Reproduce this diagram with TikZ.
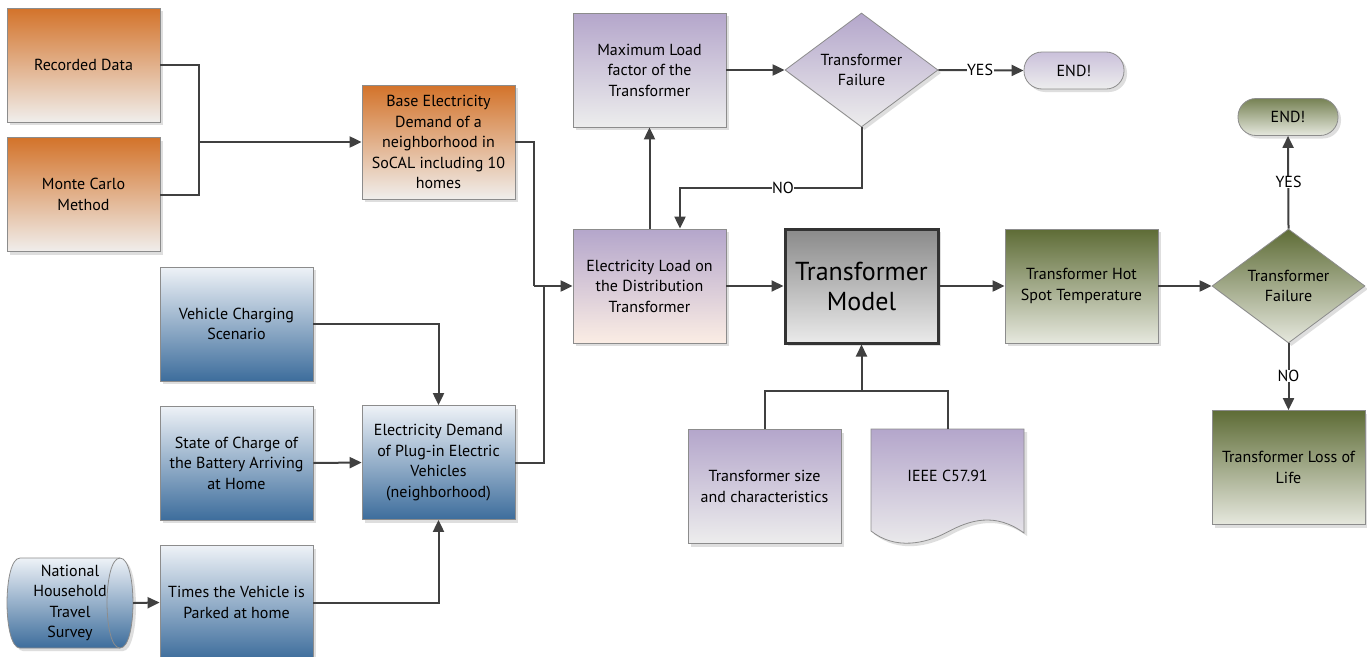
\documentclass[tikz,border=0pt]{standalone}
\usepackage{fontspec}
\setmainfont{PT Sans}
\usetikzlibrary{arrows.meta,shapes.geometric,shadows,calc}
\definecolor{bgray}{HTML}{8C8C8C}
\definecolor{lgray}{HTML}{404040}
\definecolor{orTop}{HTML}{D3732A}
\definecolor{orBot}{HTML}{F0EEEC}
\definecolor{blTop}{HTML}{EEF2F7}
\definecolor{blBot}{HTML}{3D6D9C}
\definecolor{puTop}{HTML}{B4A6CB}
\definecolor{puBot}{HTML}{EDEDED}
\definecolor{peBot}{HTML}{FBEDE4}
\definecolor{grTop}{HTML}{5E6C36}
\definecolor{grBot}{HTML}{E6E8DE}
\definecolor{gyTop}{HTML}{8A8A8A}
\definecolor{gyBot}{HTML}{EAEAEA}
\begin{document}
\begin{tikzpicture}[x=1pt,y=-1pt,
  every node/.style={font=\fontsize{16}{20.5}\selectfont, align=center, text=black},
  shd/.style={drop shadow={shadow xshift=3pt, shadow yshift=-3pt, fill=black!25, opacity=0.5}},
  box/.style={rectangle, draw=bgray, line width=0.8pt, minimum width=153pt, minimum height=114pt, inner sep=2pt, shd},
  orange/.style={box, top color=orTop, bottom color=orBot},
  blue/.style={box, top color=blTop, bottom color=blBot},
  purple/.style={box, top color=puTop, bottom color=puBot},
  green/.style={box, top color=grTop, bottom color=grBot},
  dia/.style={diamond, draw=bgray, line width=0.8pt, minimum width=153pt, minimum height=114pt, aspect=1.34, inner sep=0pt, shd},
  term/.style={rectangle, rounded corners=18pt, draw=bgray, line width=0.8pt, minimum width=100pt, minimum height=37pt, shd},
  ln/.style={draw=lgray, line width=2pt},
  arr/.style={ln, -{Triangle[length=12pt,width=11pt]}},
  lbl/.style={fill=white, inner sep=0.5pt}
]
\useasboundingbox (0,0) rectangle (1367,656);
\fill[white] (0,0) rectangle (1367,656);

% left inputs
\node[orange] (rec) at (83.5,65) {Recorded Data};
\node[orange] (mc) at (83.5,194.5) {Monte Carlo\\Method};
\node[orange] (base) at (438.5,142) {Base Electricity\\Demand of a\\neighborhood in\\SoCAL including 10\\homes};

\node[blue] (vcs) at (236.5,324) {Vehicle Charging\\Scenario};
\node[blue] (soc) at (236.5,463) {State of Charge of\\the Battery Arriving\\at Home};
\node[blue] (times) at (236.5,602.5) {Times the Vehicle is\\Parked at home};
\node[blue] (ev) at (438.5,462.5) {Electricity Demand\\of Plug-in Electric\\Vehicles\\(neighborhood)};

% cylinder (stored data)
\fill[black!25, opacity=0.5] (23,561) -- (123,561) .. controls (140.3,561) and (140.3,651) .. (123,651) -- (23,651) .. controls (5.7,651) and (5.7,561) .. (23,561) -- cycle;
\shade[top color=blTop, bottom color=blBot, draw=bgray, line width=0.8pt] (20,558) -- (120,558) .. controls (137.3,558) and (137.3,648) .. (120,648) -- (20,648) .. controls (2.7,648) and (2.7,558) .. (20,558) -- cycle;
\draw[bgray, line width=0.8pt] (120,558) .. controls (102.7,558) and (102.7,648) .. (120,648);
\node[minimum width=126pt, minimum height=90pt, inner sep=0pt] (nhts) at (70,603) {National\\Household\\Travel\\Survey};

% middle
\node[purple] (maxl) at (649.5,70) {Maximum Load\\factor of the\\Transformer};
\node[box, top color=puTop, bottom color=peBot] (load) at (649.5,286) {Electricity Load on\\the Distribution\\Transformer};
\node[dia, top color=puTop, bottom color=puBot] (d1) at (861.5,70) {Transformer\\Failure};
\node[term, top color=puTop!70, bottom color=puBot] (end1) at (1074,70.5) {END!};

\node[rectangle, draw=black!80, line width=3pt, minimum width=153pt, minimum height=114pt, top color=gyTop, bottom color=gyBot, shd, font=\fontsize{26}{30}\selectfont] (tm) at (861.5,286) {Transformer\\Model};

\node[purple] (tsz) at (764.5,486.5) {Transformer size\\and characteristics};
\coordinate (ieee) at (947.5,429);
\fill[black!25, opacity=0.5] (874,432) -- (1027,432) -- (1027,536) .. controls (998,515) and (973,523) .. (950.5,535) .. controls (928,547) and (898,553) .. (874,534) -- cycle;
\shade[top color=puTop, bottom color=puBot, draw=bgray, line width=0.8pt] (871,429) -- (1024,429) -- (1024,533) .. controls (995,512) and (970,520) .. (947.5,532) .. controls (925,544) and (895,550) .. (871,531) -- cycle;
\node (ieeetxt) at (947.5,476) {IEEE C57.91};

% right
\node[green] (hs) at (1081.5,286) {Transformer Hot\\Spot Temperature};
\node[dia, top color=grTop, bottom color=grBot] (d2) at (1288.5,286) {Transformer\\Failure};
\node[term, top color=grTop!85, bottom color=grBot] (end2) at (1288,117) {END!};
\node[green] (lol) at (1288.5,467.5) {Transformer Loss of\\Life};

% connectors
\coordinate (j1) at (199,142);
\draw[ln] (rec.east) -| (j1);
\draw[ln] (mc.east) -| (j1);
\draw[arr] (j1) -- (base.west);

\coordinate (j2) at (534,286);
\coordinate (j3) at (544,286);
\draw[ln] (base.east) -| (j2);
\draw[ln] (ev.east) -| (j3);
\draw[arr] (j2) -- (load.west);

\draw[arr] (vcs.east) -| (ev.north);
\draw[arr] (soc.east) -- (ev.west);
\draw[arr] (times.east) -| (ev.south);
\draw[arr] (nhts.east) -- (times.west);

\draw[arr] (load.north) -- (maxl.south);
\draw[arr] (maxl.east) -- (d1.west);
\draw[arr] (d1.east) -- (end1.west);
\node[lbl] (yes1) at (980,70) {YES};
\draw[arr] (d1.south) -- ++(0,61) -| ([xshift=30.5pt]load.north);
\node[lbl] (no1) at (783,188) {NO};

\draw[arr] (load.east) -- (tm.west);
\draw[arr] (tm.east) -- (hs.west);
\draw[arr] (hs.east) -- (d2.west);
\draw[arr] (d2.north) -- (end2.south);
\node[lbl] (yes2) at (1288.5,182) {YES};
\draw[arr] (d2.south) -- (lol.north);
\node[lbl] (no2) at (1288.5,376) {NO};

\coordinate (j5) at (861.5,391);
\draw[ln] (tsz.north) |- (j5);
\draw[ln] (ieee) |- (j5);
\draw[arr] (j5) -- (tm.south);
\end{tikzpicture}
\end{document}
